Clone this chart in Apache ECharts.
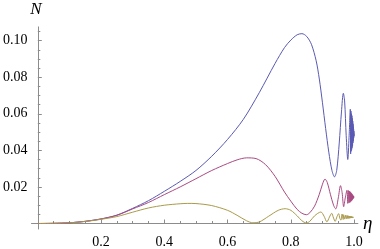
<!DOCTYPE html>
<html>
<head>
<meta charset="utf-8">
<script src="https://cdn.jsdelivr.net/npm/echarts@6/dist/echarts.min.js"></script>
<style>
html,body{margin:0;padding:0;background:#fff;}
#c{width:380px;height:249px;}
</style>
</head>
<body>
<div id="c"></div>
<script>
// tick values
const xMajor = [0.2, 0.4, 0.6, 0.8, 1.0];
const xMinor = [0.05, 0.1, 0.15, 0.25, 0.3, 0.35, 0.45, 0.5, 0.55, 0.65, 0.7, 0.75, 0.85, 0.9, 0.95];
const yMajor = [0.02, 0.04, 0.06, 0.08, 0.10];
const yMinor = [0.005, 0.01, 0.015, 0.025, 0.03, 0.035, 0.045, 0.05, 0.055, 0.065, 0.07, 0.075, 0.085, 0.09, 0.095, 0.105];

// blue series
const etaBlue = [0, 0.05, 0.1, 0.15, 0.2, 0.25, 0.3, 0.35, 0.4, 0.45, 0.5, 0.55, 0.6, 0.65, 0.7, 0.75, 0.78, 0.8, 0.82, 0.835, 0.85, 0.865, 0.88, 0.89, 0.9, 0.91, 0.92, 0.93, 0.938, 0.945, 0.953, 0.96, 0.966, 0.97, 0.975, 0.98, 0.984, 0.988,
  0.989, 0.99, 0.9908, 0.9916, 0.9924, 0.9931, 0.9938, 0.9945, 0.9951, 0.9957, 0.9962, 0.9967, 0.9972, 0.9977, 0.9981, 0.9985, 0.9989, 0.9993, 0.9996, 1.0];
const nBlue = [0, 0.0001, 0.0004, 0.0012, 0.0025, 0.0046, 0.0083, 0.0125, 0.0176, 0.023, 0.029, 0.0368, 0.046, 0.057, 0.0715, 0.0875, 0.0962, 0.1003, 0.1032, 0.1038, 0.1023, 0.098, 0.089, 0.079, 0.066, 0.052, 0.039, 0.029, 0.0255, 0.029, 0.044, 0.061, 0.0712, 0.067, 0.048, 0.035, 0.047, 0.0625,
  0.038, 0.0615, 0.0395, 0.06, 0.0405, 0.059, 0.0415, 0.0575, 0.0425, 0.056, 0.044, 0.0545, 0.045, 0.053, 0.046, 0.0515, 0.047, 0.0505, 0.0478, 0.0492];

// magenta series
const etaMagenta = [0, 0.05, 0.1, 0.15, 0.2, 0.25, 0.3, 0.35, 0.4, 0.45, 0.5, 0.55, 0.6, 0.63, 0.66, 0.69, 0.72, 0.75, 0.78, 0.8, 0.82, 0.835, 0.849, 0.86, 0.875, 0.89, 0.9, 0.908, 0.915, 0.925, 0.935, 0.942, 0.95, 0.957, 0.962, 0.967, 0.972, 0.9775,
  0.98, 0.9822, 0.984, 0.9856, 0.987, 0.9883, 0.9894, 0.9904, 0.9913, 0.9922, 0.993, 0.9938, 0.9945, 0.9952, 0.9958, 0.9964, 0.997, 0.9975, 0.998, 0.9985, 0.999, 0.9995, 1.0];
const nMagenta = [0, 0.0001, 0.0004, 0.0012, 0.0025, 0.0045, 0.008, 0.0115, 0.0158, 0.02, 0.0245, 0.029, 0.0328, 0.0348, 0.0359, 0.0355, 0.0322, 0.0258, 0.0172, 0.0122, 0.0077, 0.0056, 0.0048, 0.0059, 0.0095, 0.016, 0.0215, 0.0243, 0.0225, 0.016, 0.01, 0.008, 0.014, 0.0207, 0.017, 0.0092, 0.014, 0.0182,
  0.011, 0.018, 0.0113, 0.0177, 0.0116, 0.0173, 0.012, 0.0168, 0.0124, 0.0164, 0.0127, 0.016, 0.0131, 0.0156, 0.0134, 0.0153, 0.0137, 0.015, 0.014, 0.0148, 0.0142, 0.0146, 0.0144];

// gold series
const etaGold = [0, 0.05, 0.1, 0.15, 0.2, 0.25, 0.3, 0.35, 0.4, 0.45, 0.474, 0.5, 0.55, 0.6, 0.63, 0.66, 0.68, 0.7, 0.73, 0.76, 0.782, 0.8, 0.82, 0.835, 0.849, 0.86, 0.875, 0.895, 0.905, 0.914, 0.922, 0.929, 0.935, 0.94, 0.946, 0.951, 0.955, 0.9585, 0.962, 0.9655, 0.967,
  0.9705, 0.9735, 0.976, 0.9782, 0.9802, 0.982, 0.9837, 0.9852, 0.9866, 0.9879, 0.9891, 0.9902, 0.9912, 0.9922, 0.9931, 0.994, 0.9948, 0.9956, 0.9963, 0.997, 0.9977, 0.9984, 0.999, 1.0];
const nGold = [0, 0.0001, 0.0004, 0.0011, 0.0023, 0.0038, 0.0062, 0.0085, 0.01, 0.0108, 0.011, 0.0109, 0.0098, 0.0072, 0.0045, 0.0015, 0.0004, 0.0008, 0.004, 0.0072, 0.0081, 0.0072, 0.0042, 0.0015, 0.0003, 0.0012, 0.0042, 0.0063, 0.004, 0.0009, 0.0035, 0.0056, 0.003, 0.0012, 0.0038, 0.0054, 0.0028, 0.0018, 0.0052, 0.0022, 0.0048,
  0.0024, 0.0046, 0.0026, 0.0044, 0.0027, 0.0042, 0.0028, 0.0041, 0.0029, 0.004, 0.003, 0.0039, 0.003, 0.0038, 0.0031, 0.0037, 0.0031, 0.0036, 0.0032, 0.0035, 0.0032, 0.0034, 0.0033, 0.00335];

const pairs = (xs, ys) => xs.map((x, i) => [x, ys[i]]);

const serif = "'Liberation Serif', 'Times New Roman', serif";
const axisGray = '#8c8c8c';

const chart = echarts.init(document.getElementById('c'), null, {renderer: 'canvas'});
chart.setOption({
  animation: false,
  backgroundColor: '#ffffff',
  grid: {left: 22.5, right: 22.1, top: 26.9, bottom: 14.4, containLabel: false},
  xAxis: [
    {
      type: 'value', position: 'bottom', min: -0.02, max: 1.012,
      axisLine: {show: true, onZero: true, lineStyle: {color: axisGray, width: 1}},
      axisTick: {show: true, inside: true, length: 4, customValues: xMajor, lineStyle: {color: axisGray}},
      axisLabel: {show: true, customValues: xMajor, margin: 6, color: '#000', fontFamily: serif, fontSize: 14,
        formatter: v => v.toFixed(1)},
      splitLine: {show: false},
      name: 'η', nameLocation: 'end', nameGap: 5,
      nameTextStyle: {fontFamily: serif, fontStyle: 'italic', fontSize: 19, color: '#000'}
    },
    {
      type: 'value', position: 'bottom', min: -0.02, max: 1.012,
      axisLine: {show: false, onZero: true, onZeroAxisIndex: 0},
      axisTick: {show: true, inside: true, length: 2.5, customValues: xMinor, lineStyle: {color: axisGray}},
      axisLabel: {show: false},
      splitLine: {show: false}
    }
  ],
  yAxis: [
    {
      type: 'value', position: 'left', min: -0.003, max: 0.1075,
      axisLine: {show: true, onZero: true, lineStyle: {color: axisGray, width: 1}},
      axisTick: {show: true, inside: true, length: 4, customValues: yMajor, lineStyle: {color: axisGray}},
      axisLabel: {show: true, customValues: yMajor, margin: 4, color: '#000', fontFamily: serif, fontSize: 14,
        formatter: v => v.toFixed(2)},
      splitLine: {show: false},
      name: 'N', nameLocation: 'end', nameGap: 9,
      nameTextStyle: {fontFamily: serif, fontStyle: 'italic', fontSize: 17, color: '#000', align: 'center', verticalAlign: 'bottom', padding: [0, 4, 0, 0]}
    },
    {
      type: 'value', position: 'left', min: -0.003, max: 0.1075,
      axisLine: {show: false, onZero: true, onZeroAxisIndex: 0},
      axisTick: {show: true, inside: true, length: 2.5, customValues: yMinor, lineStyle: {color: axisGray}},
      axisLabel: {show: false},
      splitLine: {show: false}
    }
  ],
  series: [
    {type: 'line', xAxisIndex: 0, yAxisIndex: 0, data: pairs(etaBlue, nBlue), showSymbol: false, smooth: 0.3,
      lineStyle: {color: '#5a5ab4', width: 1}},
    {type: 'line', xAxisIndex: 0, yAxisIndex: 0, data: pairs(etaMagenta, nMagenta), showSymbol: false, smooth: 0.3,
      lineStyle: {color: '#aa4a82', width: 1}},
    {type: 'line', xAxisIndex: 0, yAxisIndex: 0, data: pairs(etaGold, nGold), showSymbol: false, smooth: 0.3,
      lineStyle: {color: '#aa9a4a', width: 1}}
  ]
});
</script>
</body>
</html>
